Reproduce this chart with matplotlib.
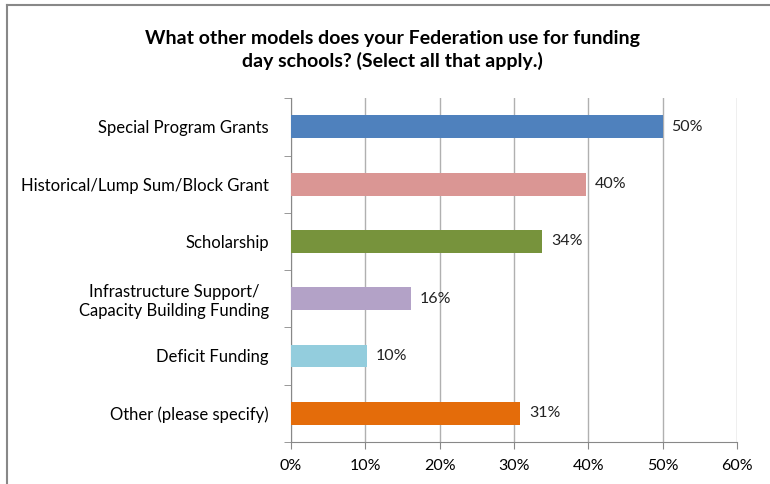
import numpy as np
import matplotlib.pyplot as plt
from matplotlib.lines import Line2D

categories = ['Special Program Grants', 'Historical/Lump Sum/Block Grant', 'Scholarship',
              'Infrastructure Support/\nCapacity Building Funding', 'Deficit Funding',
              'Other (please specify)']
values = [50.0, 39.7, 33.8, 16.1, 10.2, 30.8]
labels = ['50%', '40%', '34%', '16%', '10%', '31%']
colors = ['#4F81BD', '#DA9694', '#77933C', '#B3A2C7', '#93CDDD', '#E46C0A']
xticks = [0, 10, 20, 30, 40, 50, 60]

plt.rcParams['font.family'] = ['Lato', 'DejaVu Sans']

fig = plt.figure(figsize=(7.7, 4.84), dpi=100)
ax = fig.add_axes([0.378, 0.087, 0.579, 0.710])

y = np.arange(len(categories))
ax.barh(y, values, height=0.4, color=colors, zorder=3)
for yi, v, lab in zip(y, values, labels):
    ax.text(v + 1.2, yi, lab, va='center', ha='left', fontsize=11.5, color='#222222')

ax.set_xlim(0, 60)
ax.set_ylim(len(categories) - 0.5, -0.5)
ax.set_xticks(xticks)
ax.set_xticklabels([f'{t}%' for t in xticks], fontsize=11.5)
ax.set_yticks(y)
ax.set_yticklabels(categories, fontsize=12, linespacing=1.25)
for t in ax.get_yticklabels():
    t.set_horizontalalignment('right')
    t.set_multialignment('center')
ax.set_yticks(np.arange(-0.5, len(categories)), minor=True)
ax.tick_params(axis='y', which='major', length=0, pad=16)
ax.tick_params(axis='y', which='minor', length=5, color='#888888')
ax.tick_params(axis='x', length=5, color='#888888', pad=7)

ax.grid(axis='x', color='#B0B0B0', linewidth=1, zorder=0)
for s in ['top', 'right']:
    ax.spines[s].set_visible(False)
for s in ['left', 'bottom']:
    ax.spines[s].set_color('#888888')

fig.text(0.51, 0.897, 'What other models does your Federation use for funding\nday schools? (Select all that apply.)',
         ha='center', va='center', fontsize=14, fontweight='bold', linespacing=1.3)

# outer border (top and left)
fig.add_artist(Line2D([7/770, 1], [1 - 5/484, 1 - 5/484], color='#888888', lw=1.5))
fig.add_artist(Line2D([7/770, 7/770], [0, 1 - 5/484], color='#888888', lw=1.5))

fig.savefig('out.png', dpi=100)
